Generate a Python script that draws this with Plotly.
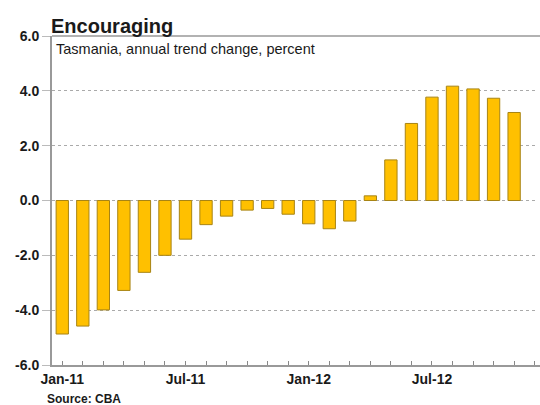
import plotly.graph_objects as go

months = ["Jan-11", "Feb-11", "Mar-11", "Apr-11", "May-11", "Jun-11", "Jul-11", "Aug-11",
          "Sep-11", "Oct-11", "Nov-11", "Dec-11", "Jan-12", "Feb-12", "Mar-12", "Apr-12",
          "May-12", "Jun-12", "Jul-12", "Aug-12", "Sep-12", "Oct-12", "Nov-12"]
values = [-4.87, -4.58, -3.99, -3.28, -2.62, -2.0, -1.41, -0.88, -0.57, -0.35, -0.29, -0.5,
          -0.85, -1.03, -0.75, 0.17, 1.48, 2.81, 3.77, 4.17, 4.07, 3.73, 3.21]
tick_labels = ["Jan-11", "Jul-11", "Jan-12", "Jul-12"]
y_ticks = [-6, -4, -2, 0, 2, 4, 6]

x_pos = list(range(len(months)))
n_ticks = len(months) + 1
tick_vals = list(range(n_ticks))
tick_text = [months[i] if (i < len(months) and months[i] in tick_labels) else "" for i in tick_vals]

fig = go.Figure()
fig.add_trace(go.Bar(
    x=x_pos, y=values, width=0.6,
    marker=dict(color="#FFC000", line=dict(color="#A88414", width=1)),
    hovertext=months,
))

fig.update_layout(
    width=540, height=405,
    margin=dict(l=52, r=0, t=36, b=40),
    paper_bgcolor="white", plot_bgcolor="white",
    font=dict(family="Liberation Sans, Arial", color="#1a1a1a"),
    showlegend=False,
    bargap=0.4,
)
fig.update_xaxes(
    range=[-0.5, 23.26],
    tickvals=tick_vals, ticktext=tick_text,
    tickfont=dict(size=14, family="Liberation Sans, Arial", color="#1a1a1a", weight="bold"),
    ticks="inside", ticklen=4, tickcolor="#888888",
    showline=True, linecolor="#999999", linewidth=1.5,
    showgrid=False, zeroline=False,
)
fig.update_yaxes(
    range=[-6, 6],
    tickvals=y_ticks, ticktext=[f"{v:.1f}" for v in y_ticks],
    tickfont=dict(size=14, family="Liberation Sans, Arial", color="#1a1a1a", weight="bold"),
    ticks="outside", ticklen=8, tickcolor="#bbbbbb",
    showline=True, linecolor="#999999", linewidth=2,
    showgrid=True, gridcolor="#aaaaaa", griddash="dot", gridwidth=1,
    zeroline=False,
)

fig.add_shape(type="line", xref="paper", yref="paper", x0=0, x1=1, y0=1, y1=1,
              line=dict(color="#999999", width=1.5))
# mask the right plot edge (the reference is cropped there)
fig.add_shape(type="line", xref="paper", yref="paper", x0=1, x1=1, y0=0.003, y1=0.997,
              line=dict(color="white", width=4), layer="above")

fig.add_annotation(text="<b>Encouraging</b>", xref="paper", yref="paper",
                   x=0.0, y=1.0, xanchor="left", yanchor="bottom", yshift=-3, xshift=-3,
                   showarrow=False, font=dict(size=20, color="#1a1a1a"))
fig.add_annotation(text="Tasmania, annual trend change, percent", xref="paper", yref="paper",
                   x=0.0, y=1.0, xanchor="left", yanchor="top", xshift=2, yshift=-3,
                   showarrow=False, font=dict(size=14.5, color="#1a1a1a"))
fig.add_annotation(text="<b>Source: CBA</b>", xref="paper", yref="paper",
                   x=0.0, y=0.0, xanchor="left", yanchor="top", xshift=-7, yshift=-25,
                   showarrow=False, font=dict(size=12, color="#1a1a1a"))

fig.write_html("out.html", config={"displayModeBar": False})
